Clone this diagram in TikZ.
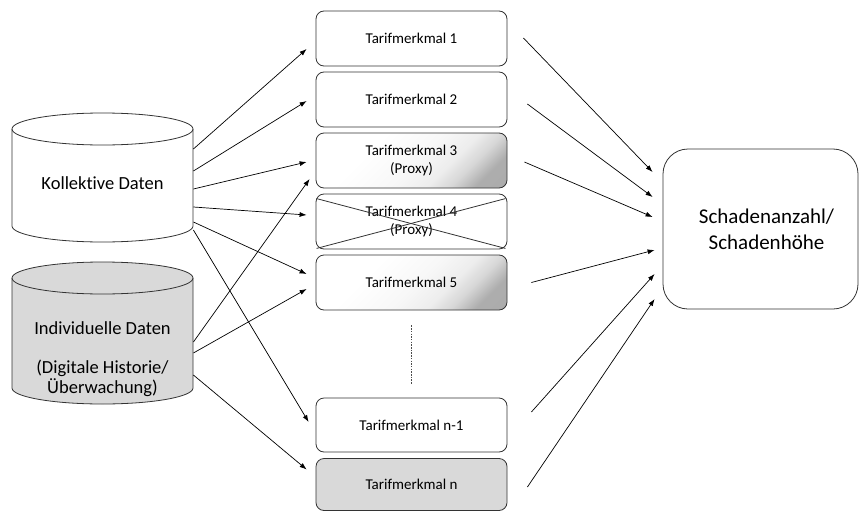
\documentclass[tikz,border=0pt]{standalone}
\usepackage{fontspec}
\setmainfont{Carlito}[Ligatures=NoCommon]
\usetikzlibrary{arrows.meta,calc}
% soft grey fade towards one corner of a box
\pgfdeclareverticalshading{cornerfade}{100bp}{%
  color(0bp)=(black!34); color(24bp)=(black!32); color(31bp)=(black!16);
  color(38bp)=(black!7); color(48bp)=(black!3); color(65bp)=(white);
  color(100bp)=(white)}
\begin{document}
\begin{tikzpicture}[x=1pt,y=-1pt,
  line width=0.8pt,
  edge/.style={draw=black!80, line width=0.8pt},
  merkmal/.style={edge, rounded corners=8pt, minimum width=191pt,
    minimum height=55pt, inner sep=0pt, align=center,
    font=\fontsize{15}{18.3}\selectfont},
  proxyshade/.style={shading=cornerfade, shading angle=45},
  greyfill/.style={fill=black!15},
  arr/.style={-{Latex[length=7pt,width=5pt]}, line width=0.7pt},
  dbbody/.style={inner sep=0pt, minimum width=181pt},
  dbtext/.style={font=\fontsize{18.5}{20}\selectfont, align=center},
]
\useasboundingbox (0,0) rectangle (861,511);

% ---- database cylinders ----
\filldraw[edge, fill=white]
  (12,129) -- (12,226) arc[start angle=180, end angle=0, x radius=90.5, y radius=16]
  -- (193,129) arc[start angle=0, end angle=-180, x radius=90.5, y radius=16] -- cycle;
\draw[edge] (12,129) arc[start angle=180, end angle=0, x radius=90.5, y radius=16];
\node[dbbody, minimum height=129pt] (k) at (102.5,177.5) {};
\node[dbtext] (klabel) at (102.5,183.5) {Kollektive Daten};

\filldraw[edge, greyfill]
  (12,278) -- (12,388) arc[start angle=180, end angle=0, x radius=90.5, y radius=16]
  -- (193,278) arc[start angle=0, end angle=-180, x radius=90.5, y radius=16] -- cycle;
\draw[edge] (12,278) arc[start angle=180, end angle=0, x radius=90.5, y radius=16];
\node[dbbody, minimum height=142pt] (i) at (102.5,333) {};
\node[dbtext] (ilabel) at (102.5,359)
  {Individuelle Daten\\[19pt](Digitale Historie/\\Überwachung)};

% ---- tariff features ----
\node[merkmal] (t1) at (411.5,38.5) {Tarifmerkmal 1};
\node[merkmal] (t2) at (411.5,99.5) {Tarifmerkmal 2};
\node[merkmal, proxyshade] (t3) at (411.5,160.5) {Tarifmerkmal 3\\(Proxy)};
\node[merkmal] (t4) at (411.5,221.5) {Tarifmerkmal 4\\(Proxy)};
\node[merkmal, proxyshade] (t5) at (411.5,282.5) {Tarifmerkmal 5};
\node[merkmal, minimum height=54pt] (tn1) at (411.5,425) {Tarifmerkmal n-1};
\node[merkmal, greyfill, minimum height=52pt] (tn) at (411.5,484.5) {Tarifmerkmal n};

% feature 4 is struck out
\draw[edge] ([xshift=1pt,yshift=-5pt]t4.north west) -- ([xshift=-2pt,yshift=1pt]t4.south east);
\draw[edge] ([xshift=1pt,yshift=1pt]t4.south west) -- ([xshift=-2pt,yshift=-5pt]t4.north east);

% omitted features
\draw[black!70, line width=0.8pt, dash pattern=on 1.5pt off 1.2pt]
  ([yshift=-15pt]t5.south) -- ([yshift=13pt]tn1.north);

% ---- target ----
\node[edge, rounded corners=25pt, minimum width=195pt, minimum height=160pt,
  align=center, font=\fontsize{21}{26}\selectfont] (s) at (760.5,229)
  {\hspace*{12pt}Schadenanzahl/\\\hspace*{12pt}Schadenhöhe};

% ---- data sources to features ----
\draw[arr] ([yshift=28.5pt]k.east)  -- ([xshift=-9pt,yshift=-10.5pt]t1.west);
\draw[arr] ([yshift=6.5pt]k.east)   -- ([xshift=-9pt,yshift=-1.5pt]t2.west);
\draw[arr] ([yshift=-11.5pt]k.east) -- ([xshift=-9pt,yshift=-1.5pt]t3.west);
\draw[arr] ([yshift=-29.5pt]k.east) -- ([xshift=-9pt,yshift=6.5pt]t4.west);
\draw[arr] ([yshift=-44.5pt]k.east) -- ([xshift=-9pt,yshift=8.5pt]t5.west);
\draw[arr] ([yshift=-52.5pt]k.east) -- ([xshift=-7pt,yshift=3pt]tn1.west);
\draw[arr] ([yshift=-9pt]i.east)    -- ([xshift=-6pt,yshift=-18.5pt]t3.west);
\draw[arr] ([yshift=-20pt]i.east)   -- ([xshift=-9pt,yshift=-6.5pt]t5.west);
\draw[arr] ([yshift=-42pt]i.east)   -- ([xshift=-9pt,yshift=15pt]tn.west);

% ---- features to target ----
\draw[arr] ([xshift=16pt,yshift=0.5pt]t1.east) -- ([xshift=-10pt,yshift=57pt]s.west);
\draw[arr] ([xshift=20pt,yshift=-4.5pt]t2.east) -- ([xshift=-10pt,yshift=32pt]s.west);
\draw[arr] ([xshift=17pt,yshift=-1.5pt]t3.east) -- ([xshift=-10pt,yshift=12pt]s.west);
\draw[arr] ([xshift=24pt,yshift=0pt]t5.east)    -- ([xshift=-8pt,yshift=-21pt]s.west);
\draw[arr] ([xshift=24pt,yshift=13pt]tn1.east)  -- ([xshift=-8pt,yshift=-45pt]s.west);
\draw[arr] ([xshift=20pt,yshift=-2.5pt]tn.east) -- ([xshift=-8pt,yshift=-70pt]s.west);
\end{tikzpicture}
\end{document}
